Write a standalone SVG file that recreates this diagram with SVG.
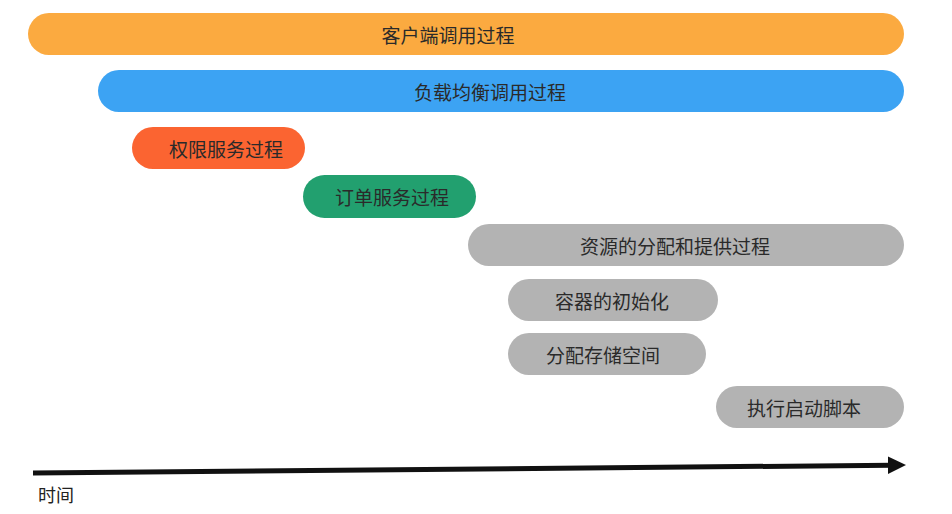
<svg xmlns="http://www.w3.org/2000/svg" width="952" height="514" viewBox="0 0 952 514">
<style>
.lbl{font-family:"Noto Sans CJK SC","Liberation Sans",sans-serif;font-size:19px;fill:#2a2a2a;text-anchor:middle;dominant-baseline:central}
.bar{stroke:none}
</style>
<rect width="952" height="514" fill="#ffffff"/>
<g id="client"><rect class="bar" x="28" y="13" width="876" height="42" rx="21" fill="#FBAA40"/><text class="lbl" x="448" y="34">客户端调用过程</text></g>
<g id="lb"><rect class="bar" x="98" y="70" width="806" height="42" rx="21" fill="#3CA3F3"/><text class="lbl" x="490" y="91">负载均衡调用过程</text></g>
<g id="auth"><rect class="bar" x="132" y="127" width="173" height="42" rx="21" fill="#FB6431"/><text class="lbl" x="226" y="148">权限服务过程</text></g>
<g id="order"><rect class="bar" x="303" y="175" width="173" height="43" rx="21.5" fill="#22A06F"/><text class="lbl" x="392" y="196.5">订单服务过程</text></g>
<g id="resource"><rect class="bar" x="468" y="224" width="436" height="42" rx="21" fill="#B3B3B3"/><text class="lbl" x="675" y="245">资源的分配和提供过程</text></g>
<g id="container"><rect class="bar" x="508" y="279" width="210" height="42" rx="21" fill="#B3B3B3"/><text class="lbl" x="612" y="300">容器的初始化</text></g>
<g id="storage"><rect class="bar" x="508" y="333" width="198" height="42" rx="21" fill="#B3B3B3"/><text class="lbl" x="603" y="354">分配存储空间</text></g>
<g id="script"><rect class="bar" x="716" y="386" width="188" height="42" rx="21" fill="#B3B3B3"/><text class="lbl" x="804" y="407">执行启动脚本</text></g>
<g id="connectors">
<line x1="33" y1="473" x2="892" y2="465.2" stroke="#111" stroke-width="5"/>
<polygon points="906,465 888,456.5 888,474" fill="#111"/>
</g>
<text x="38" y="494" style="font-family:'Noto Sans CJK SC','Liberation Sans',sans-serif;font-size:18px;fill:#222;dominant-baseline:central">时间</text>
</svg>
